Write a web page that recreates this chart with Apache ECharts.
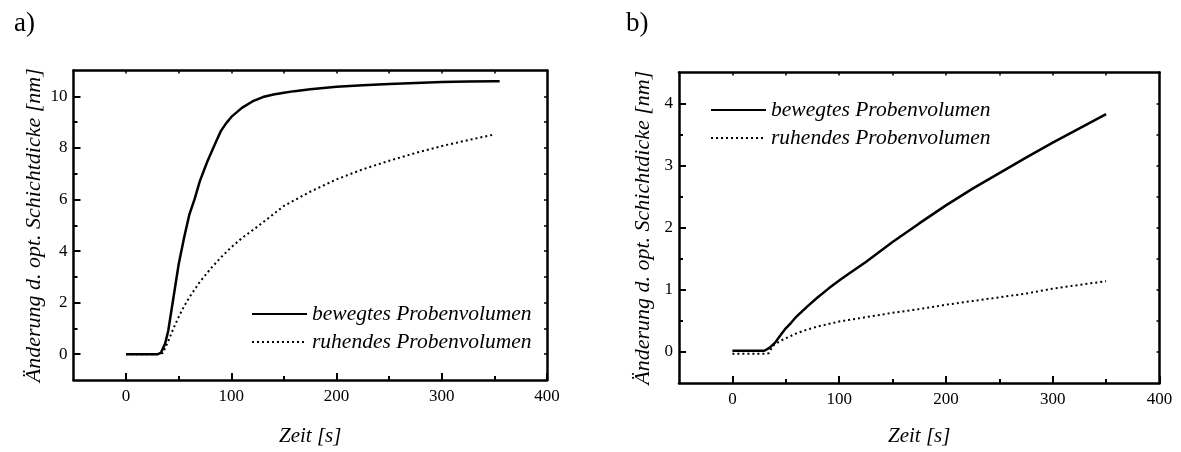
<!DOCTYPE html>
<html>
<head>
<meta charset="utf-8">
<script src="https://cdn.jsdelivr.net/npm/echarts@6/dist/echarts.min.js"></script>
<style>
  html, body { margin: 0; padding: 0; background: #ffffff; }
  #chart { width: 1181px; height: 452px; }
</style>
</head>
<body>
<div id="chart"></div>
<script>
// Series names shared by both panels
const seriesNames = ['bewegtes Probenvolumen', 'ruhendes Probenvolumen'];

// Time axis (both panels)
const xTickLabels = [0, 100, 200, 300, 400];
const xMinorTicks = [50, 150, 250, 350];
const xTopTicks = [0, 50, 100, 150, 200, 250, 300, 350];

// Panel a) y axis
const yTickLabelsA = [0, 2, 4, 6, 8, 10];
const yMinorTicksA = [1, 3, 5, 7, 9];
const yRightTicksA = [0, 1, 2, 3, 4, 5, 6, 7, 8, 9, 10];

// Panel b) y axis
const yTickLabelsB = [0, 1, 2, 3, 4];
const yMinorTicksB = [0.5, 1.5, 2.5, 3.5];
const yRightTicksB = [0, 0.5, 1, 1.5, 2, 2.5, 3, 3.5, 4];

// Panel a) – bewegtes Probenvolumen
const timeA_bewegt = [0, 10, 20, 30, 33, 37, 40, 45, 50, 55, 60, 65, 70, 77, 85, 90, 95, 100, 110, 120, 130, 140, 150, 160, 175, 200, 225, 250, 275, 300, 325, 350, 355];
const valA_bewegt  = [0, 0, 0, 0, 0.05, 0.4, 0.9, 2.2, 3.5, 4.5, 5.4, 6.0, 6.7, 7.45, 8.2, 8.65, 8.95, 9.2, 9.55, 9.8, 9.97, 10.07, 10.14, 10.2, 10.27, 10.37, 10.43, 10.48, 10.52, 10.55, 10.57, 10.58, 10.58];

// Panel a) – ruhendes Probenvolumen
const timeA_ruhend = [0, 10, 20, 30, 35, 40, 45, 50, 55, 60, 70, 80, 90, 100, 110, 125, 150, 175, 200, 225, 250, 275, 300, 325, 350];
const valA_ruhend  = [0, 0, 0, 0, 0.05, 0.5, 1.0, 1.45, 1.85, 2.2, 2.8, 3.3, 3.75, 4.15, 4.5, 4.95, 5.75, 6.3, 6.78, 7.17, 7.5, 7.8, 8.07, 8.3, 8.52];

// Panel b) – bewegtes Probenvolumen
const timeB_bewegt = [0, 10, 20, 30, 35, 40, 45, 50, 55, 60, 70, 80, 90, 100, 110, 125, 150, 175, 200, 225, 250, 275, 300, 325, 350];
const valB_bewegt  = [0.02, 0.02, 0.02, 0.02, 0.07, 0.15, 0.27, 0.38, 0.47, 0.57, 0.73, 0.88, 1.02, 1.15, 1.27, 1.45, 1.77, 2.07, 2.36, 2.63, 2.88, 3.13, 3.37, 3.6, 3.83];

// Panel b) – ruhendes Probenvolumen
const timeB_ruhend = [0, 10, 20, 30, 34, 38, 45, 50, 60, 70, 80, 90, 100, 125, 150, 175, 200, 225, 250, 275, 300, 325, 350];
const valB_ruhend  = [-0.03, -0.03, -0.03, -0.03, -0.02, 0.1, 0.18, 0.22, 0.3, 0.36, 0.41, 0.45, 0.49, 0.56, 0.63, 0.69, 0.76, 0.82, 0.88, 0.94, 1.02, 1.08, 1.14];

const zip = (xs, ys) => xs.map((x, i) => [x, ys[i]]);

const FONT = '"Liberation Serif", "Times New Roman", serif';
const BLACK = '#000000';

const labelStyle = { fontFamily: FONT, fontSize: 17, color: BLACK };
const xNameStyle = { fontFamily: FONT, fontSize: 21, fontStyle: 'italic', color: BLACK };
const yNameStyle = { fontFamily: FONT, fontSize: 22, fontStyle: 'italic', color: BLACK };
const frameLine = { show: true, onZero: false, lineStyle: { color: BLACK, width: 2.5 } };
const hiddenLine = { show: false, onZero: false };

// Bottom axis with labels + long ticks, a second one for the short ticks, and a top frame axis
function timeAxes(gridIndex, nameGap) {
  return [
    {
      gridIndex, type: 'value', position: 'bottom', min: -50, max: 400,
      axisLine: frameLine,
      axisTick: { show: true, inside: true, length: 7, lineStyle: { color: BLACK, width: 2 }, customValues: xTickLabels },
      axisLabel: Object.assign({ margin: 8, customValues: xTickLabels }, labelStyle),
      splitLine: { show: false },
      name: 'Zeit [s]', nameLocation: 'middle', nameGap, nameTextStyle: xNameStyle
    },
    {
      gridIndex, type: 'value', position: 'bottom', min: -50, max: 400,
      axisLine: hiddenLine,
      axisTick: { show: true, inside: true, length: 4, lineStyle: { color: BLACK, width: 2 }, customValues: xMinorTicks },
      axisLabel: { show: false },
      splitLine: { show: false }
    },
    {
      gridIndex, type: 'value', position: 'top', min: -50, max: 400,
      axisLine: frameLine,
      axisTick: { show: true, inside: true, length: 3, lineStyle: { color: BLACK, width: 1.5 }, customValues: xTopTicks },
      axisLabel: { show: false },
      splitLine: { show: false }
    }
  ];
}

function valueAxes(gridIndex, min, max, labels, minor, right, nameGap) {
  return [
    {
      gridIndex, type: 'value', position: 'left', min, max,
      axisLine: frameLine,
      axisTick: { show: true, inside: true, length: 7, lineStyle: { color: BLACK, width: 2 }, customValues: labels },
      axisLabel: Object.assign({ margin: 6, customValues: labels }, labelStyle),
      splitLine: { show: false },
      name: 'Änderung d. opt. Schichtdicke [nm]', nameLocation: 'middle', nameRotate: 90,
      nameGap, nameTextStyle: yNameStyle
    },
    {
      gridIndex, type: 'value', position: 'left', min, max,
      axisLine: hiddenLine,
      axisTick: { show: true, inside: true, length: 4, lineStyle: { color: BLACK, width: 2 }, customValues: minor },
      axisLabel: { show: false },
      splitLine: { show: false }
    },
    {
      gridIndex, type: 'value', position: 'right', min, max,
      axisLine: frameLine,
      axisTick: { show: true, inside: true, length: 3, lineStyle: { color: BLACK, width: 1.5 }, customValues: right },
      axisLabel: { show: false },
      splitLine: { show: false }
    }
  ];
}

function lineSeries(name, xi, yi, data, dotted) {
  return {
    name, type: 'line', xAxisIndex: xi, yAxisIndex: yi, data,
    symbol: 'none', showSymbol: false, smooth: false, clip: true,
    itemStyle: { color: BLACK },
    lineStyle: dotted
      ? { color: BLACK, width: 2, type: [2, 3] }
      : { color: BLACK, width: 2.5, type: 'solid' }
  };
}

const legendText = { fontFamily: FONT, fontSize: 21.5, fontStyle: 'italic', color: BLACK };
// Legend keys show only the line sample, no marker
const legendCommon = {
  orient: 'vertical', itemWidth: 55, itemHeight: 14, itemGap: 6,
  data: seriesNames, textStyle: legendText, selectedMode: false,
  itemStyle: { opacity: 0 }
};

const option = {
  backgroundColor: '#ffffff',
  animation: false,
  title: [
    { text: 'a)', left: 9, top: 5, textStyle: { fontFamily: FONT, fontSize: 27, fontWeight: 'normal', color: BLACK } },
    { text: 'b)', left: 621, top: 5, textStyle: { fontFamily: FONT, fontSize: 27, fontWeight: 'normal', color: BLACK } }
  ],
  legend: [
    Object.assign({ left: 246, top: 298 }, legendCommon),
    Object.assign({ left: 705, top: 94 }, legendCommon)
  ],
  grid: [
    { left: 73.5, top: 70.5, width: 473.5, height: 314 },
    { left: 679, top: 72.5, width: 480.5, height: 317.5 }
  ],
  xAxis: [].concat(timeAxes(0, 46), timeAxes(1, 43)),
  yAxis: [].concat(
    valueAxes(0, -1, 11, yTickLabelsA, yMinorTicksA, yRightTicksA, 28),
    valueAxes(1, -0.5, 4.5, yTickLabelsB, yMinorTicksB, yRightTicksB, 25)
  ),
  series: [
    lineSeries(seriesNames[0], 0, 0, zip(timeA_bewegt, valA_bewegt), false),
    lineSeries(seriesNames[1], 0, 0, zip(timeA_ruhend, valA_ruhend), true),
    lineSeries(seriesNames[0], 3, 3, zip(timeB_bewegt, valB_bewegt), false),
    lineSeries(seriesNames[1], 3, 3, zip(timeB_ruhend, valB_ruhend), true)
  ]
};

const chart = echarts.init(document.getElementById('chart'), null, { renderer: 'canvas' });
chart.setOption(option);
</script>
</body>
</html>
